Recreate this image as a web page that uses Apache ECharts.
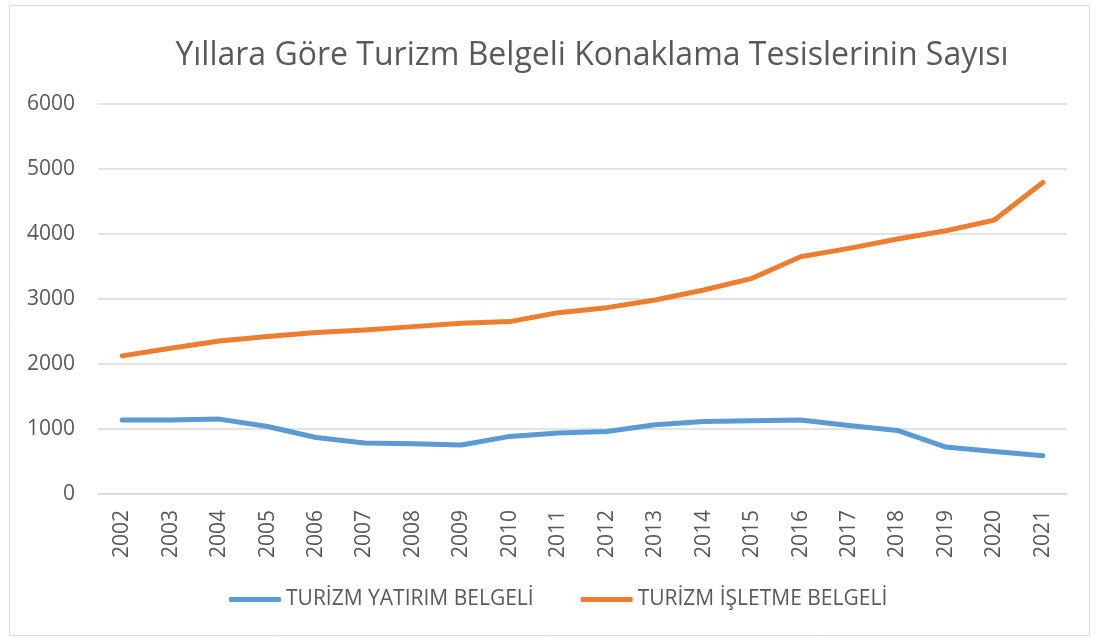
<!DOCTYPE html>
<html>
<head>
<meta charset="utf-8">
<script src="https://cdn.jsdelivr.net/npm/echarts@6/dist/echarts.min.js"></script>
<style>
  html, body { margin: 0; padding: 0; background: #fff; }
  #chart { width: 1097px; height: 637px; }
</style>
</head>
<body>
<div id="chart"></div>
<script>
// yıllar ve değerler (grafikten okunan yaklaşık değerler)
const years = ['2002', '2003', '2004', '2005', '2006', '2007', '2008', '2009', '2010', '2011',
  '2012', '2013', '2014', '2015', '2016', '2017', '2018', '2019', '2020', '2021'];
const yatirimBelgeli = [1137, 1137, 1152, 1039, 870, 783, 773, 753, 886, 937,
  963, 1065, 1116, 1126, 1137, 1055, 978, 722, 655, 589];
const isletmeBelgeli = [2125, 2243, 2355, 2422, 2483, 2524, 2575, 2627, 2652, 2790,
  2867, 2985, 3139, 3318, 3651, 3779, 3922, 4050, 4214, 4793];
const seriesNames = ['TURİZM YATIRIM BELGELİ', 'TURİZM İŞLETME BELGELİ'];

const chart = echarts.init(document.getElementById('chart'));
const textColor = '#595959';
const font = '"Open Sans", "Noto Sans", sans-serif';

const option = {
  animation: false,
  textStyle: { fontFamily: font },
  title: {
    text: 'Yıllara Göre Turizm Belgeli Konaklama Tesislerinin Sayısı',
    left: 587,
    top: 35,
    textAlign: 'center',
    textStyle: { color: textColor, fontSize: 32, fontWeight: 'normal', fontFamily: font }
  },
  graphic: [{
    type: 'rect',
    shape: { x: 9.5, y: 5.5, width: 1080, height: 630 },
    style: { fill: 'none', stroke: '#d9d9d9', lineWidth: 1 }
  }],
  legend: {
    data: seriesNames,
    left: 224,
    top: 584,
    itemWidth: 52,
    itemHeight: 5,
    itemGap: 47,
    icon: 'roundRect',
    textStyle: { color: textColor, fontSize: 21, fontFamily: font }
  },
  grid: { left: 98, right: 30, top: 104, bottom: 143 },
  xAxis: {
    type: 'category',
    data: years,
    boundaryGap: true,
    axisLine: { lineStyle: { color: '#d9d9d9', width: 1.5 } },
    axisTick: { show: false },
    axisLabel: { rotate: 90, margin: 16, color: textColor, fontSize: 21, interval: 0 }
  },
  yAxis: {
    type: 'value',
    min: 0,
    max: 6000,
    interval: 1000,
    axisLine: { show: false },
    axisTick: { show: false },
    axisLabel: { margin: 23, color: textColor, fontSize: 21, formatter: (v) => String(v) },
    splitLine: { lineStyle: { color: '#d9d9d9', width: 1.5 } }
  },
  series: [
    {
      name: seriesNames[0],
      type: 'line',
      data: yatirimBelgeli,
      symbol: 'none',
      itemStyle: { color: '#5B9BD5' },
      lineStyle: { color: '#5B9BD5', width: 5, cap: 'round', join: 'round' }
    },
    {
      name: seriesNames[1],
      type: 'line',
      data: isletmeBelgeli,
      symbol: 'none',
      itemStyle: { color: '#ED7D31' },
      lineStyle: { color: '#ED7D31', width: 5, cap: 'round', join: 'round' }
    }
  ]
};

chart.setOption(option);
</script>
</body>
</html>
